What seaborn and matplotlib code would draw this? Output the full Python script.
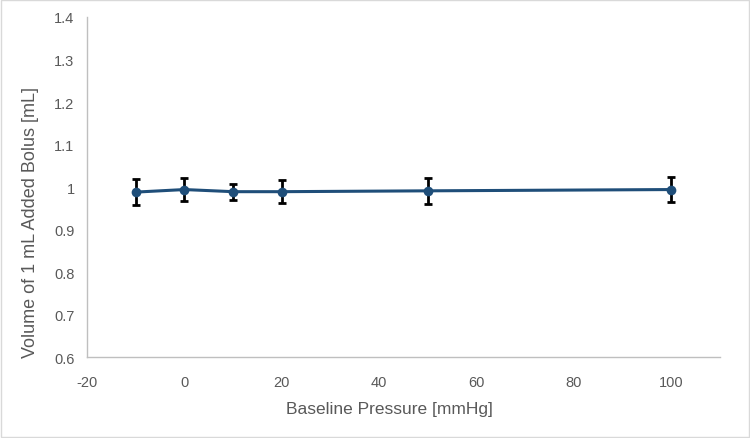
import pandas as pd
import seaborn as sns
import matplotlib.pyplot as plt
from matplotlib.patches import Rectangle

# Baseline pressure and measured volume of a 1 mL bolus
pressure = [-10, 0, 10, 20, 50, 100]
volume = [0.988, 0.994, 0.989, 0.989, 0.991, 0.994]
volume_sd = [0.030, 0.027, 0.019, 0.027, 0.030, 0.029]

df = pd.DataFrame({'pressure': pressure, 'volume': volume, 'sd': volume_sd})

sns.set_style('white')
plt.rcParams['font.family'] = ['Liberation Sans', 'DejaVu Sans']
plt.rcParams['axes.unicode_minus'] = False

fig = plt.figure(figsize=(7.5, 4.39), dpi=100)
ax = fig.add_axes([0.116, 0.1845, 0.844, 0.7745])

ax.errorbar(df['pressure'], df['volume'], yerr=df['sd'], fmt='none',
            ecolor='black', elinewidth=2, capsize=3, capthick=2, zorder=2)
sns.lineplot(data=df, x='pressure', y='volume', ax=ax, color='#1f4e79',
             linewidth=2.2, marker='o', markersize=7, markeredgewidth=0, zorder=3)

ax.set_xlim(-20, 110)
ax.set_ylim(0.6, 1.4)
ax.set_xticks([-20, 0, 20, 40, 60, 80, 100])
ax.set_yticks([0.6, 0.7, 0.8, 0.9, 1.0, 1.1, 1.2, 1.3, 1.4])
ax.set_yticklabels(['0.6', '0.7', '0.8', '0.9', '1', '1.1', '1.2', '1.3', '1.4'])
ax.tick_params(axis='y', length=0, labelsize=10.5, colors='#595959', pad=9)
ax.tick_params(axis='x', length=0, labelsize=10.5, colors='#595959', pad=13)

ax.set_xlabel('Baseline Pressure [mmHg]', fontsize=12.5, color='#595959')
ax.set_ylabel('Volume of 1 mL Added Bolus [mL]', fontsize=13, color='#595959')
# the original titles sit a little off-centre
ax.xaxis.set_label_coords(0.477, -0.13)
ax.yaxis.set_label_coords(-0.076, 0.40)

for side in ['top', 'right']:
    ax.spines[side].set_visible(False)
for side in ['left', 'bottom']:
    ax.spines[side].set_color('#bfbfbf')
    ax.spines[side].set_linewidth(1)

# light chart border like the original
fig.patches.append(Rectangle((0.001, 0.002), 0.997, 0.995, transform=fig.transFigure,
                             fill=False, edgecolor='#d9d9d9', linewidth=1))

fig.savefig('out.png', dpi=100)
